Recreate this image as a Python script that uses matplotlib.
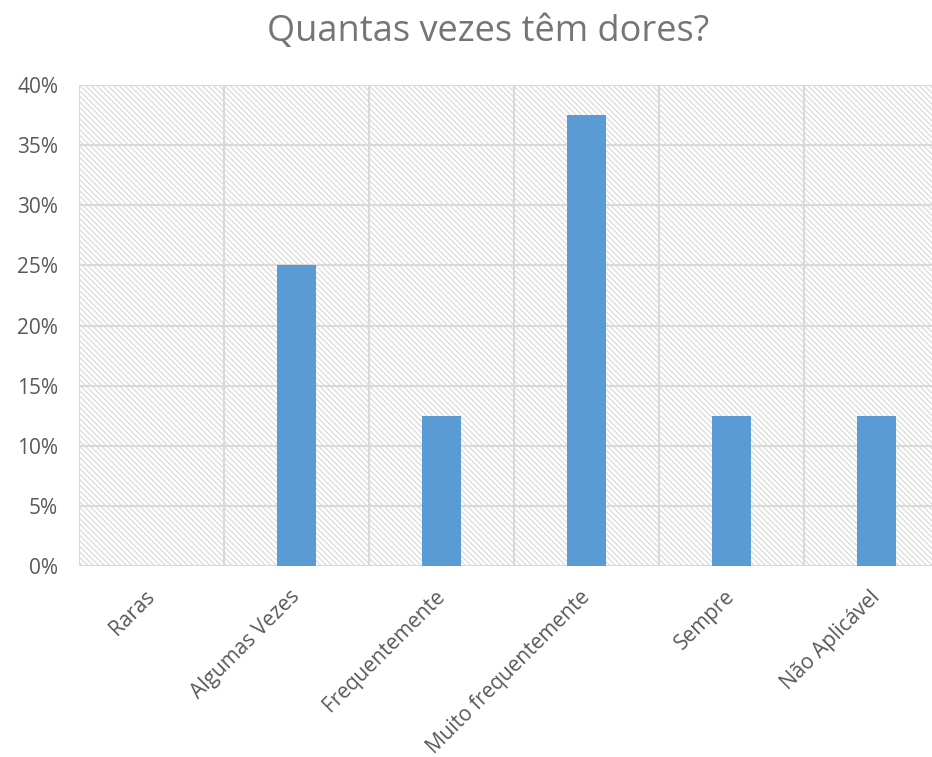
import numpy as np
import matplotlib
matplotlib.use('Agg')
from matplotlib import pyplot as plt
from matplotlib.patches import Rectangle
from matplotlib.ticker import FuncFormatter

plt.rcParams['font.family'] = ['Open Sans', 'DejaVu Sans']
plt.rcParams['hatch.linewidth'] = 1.0

# frequência da dor
categorias = ['Raras', 'Algumas Vezes', 'Frequentemente', 'Muito frequentemente',
              'Sempre', 'Não Aplicável']
percentagens = [0.0, 0.25, 0.125, 0.375, 0.125, 0.125]
y_ticks = [0.0, 0.05, 0.10, 0.15, 0.20, 0.25, 0.30, 0.35, 0.40]

cor_barra = '#5b9bd5'
cor_grelha = '#d9d9d9'
cor_texto = '#595959'

fig = plt.figure(figsize=(9.32, 7.57), dpi=100)
# a área do gráfico passa ligeiramente do limite direito da figura
ax = fig.add_axes([79 / 932, 191 / 757, 870 / 932, 481 / 757])

x = np.arange(len(categorias))
ax.set_xlim(-0.5, len(categorias) - 0.5)
ax.set_ylim(0, 0.40)

# fundo tracejado
ax.add_patch(Rectangle((0, 0), 1, 1, transform=ax.transAxes, fill=False,
                       hatch='\\\\\\\\\\\\', edgecolor='#dedede', lw=0, zorder=0))

# grelha horizontal e vertical
for v in y_ticks:
    ax.axhline(v, color=cor_grelha, lw=1.5, zorder=1)
for b in np.arange(-0.5, len(categorias), 1.0):
    ax.axvline(b, color=cor_grelha, lw=1.5, zorder=1)

ax.bar(x, percentagens, width=0.27, color=cor_barra, zorder=3)

for s in ax.spines.values():
    s.set_visible(False)

ax.set_yticks(y_ticks)
ax.yaxis.set_major_formatter(FuncFormatter(lambda v, p: '{:.0f}%'.format(v * 100)))
ax.set_xticks(x)
ax.set_xticklabels(categorias, rotation=45, ha='right', va='center',
                   rotation_mode='anchor')
ax.tick_params(axis='both', length=0, colors=cor_texto)
ax.tick_params(axis='y', pad=15, labelsize=15)
ax.tick_params(axis='x', pad=20, labelsize=15)

fig.text(488 / 932, 1 - 32 / 757, 'Quantas vezes têm dores?', ha='center', va='center',
         fontsize=26, color='#757575')

fig.savefig('out.png', dpi=100)
